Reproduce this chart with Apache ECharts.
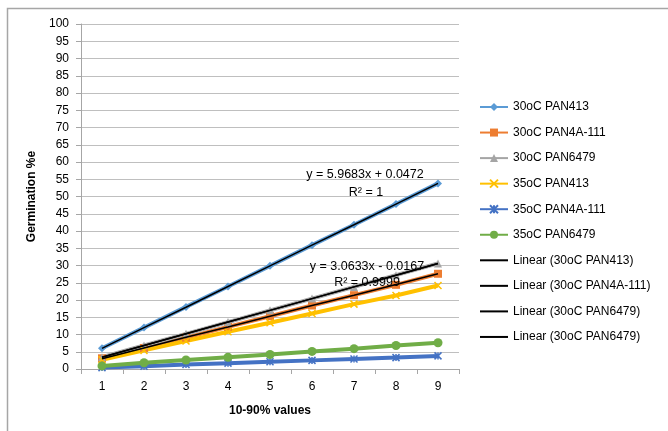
<!DOCTYPE html>
<html>
<head>
<meta charset="utf-8">
<script src="https://cdn.jsdelivr.net/npm/echarts@6/dist/echarts.min.js"></script>
<style>
html,body{margin:0;padding:0;background:#fff;}
#chart{width:668px;height:431px;}
</style>
</head>
<body>
<div id="chart"></div>
<script>
var categories = ['1','2','3','4','5','6','7','8','9'];
var yTicks = {min: 0, max: 100, interval: 5};

var s30PAN413   = [6.0, 12.0, 18.0, 23.9, 29.9, 35.9, 41.8, 47.8, 53.8];
var s30PAN4A111 = [3.1, 6.1, 9.1, 12.2, 15.3, 18.4, 21.4, 24.4, 27.6];
var s30PAN6479  = [3.4, 6.8, 10.2, 13.6, 17.0, 20.4, 23.8, 27.2, 30.6];
var s35PAN413   = [2.7, 5.4, 8.1, 10.8, 13.4, 16.1, 18.8, 21.3, 24.2];
var s35PAN4A111 = [0.4, 0.8, 1.3, 1.7, 2.1, 2.5, 2.9, 3.3, 3.8];
var s35PAN6479  = [0.9, 1.8, 2.6, 3.4, 4.2, 5.1, 5.9, 6.8, 7.6];

var trend30PAN413   = [6.0, 12.0, 17.9, 23.9, 29.9, 35.9, 41.8, 47.8, 53.8];
var trend30PAN4A111 = [3.0, 6.1, 9.2, 12.2, 15.3, 18.4, 21.4, 24.5, 27.6];
var trend30PAN6479  = [3.4, 6.8, 10.2, 13.6, 17.0, 20.4, 23.8, 27.2, 30.6];

var names = ['30oC PAN413','30oC PAN4A-111','30oC PAN6479','35oC PAN413','35oC PAN4A-111','35oC PAN6479',
             'Linear (30oC PAN413)','Linear (30oC PAN4A-111)','Linear (30oC PAN6479)','Linear (30oC PAN6479) '];

var annotations = ['y = 5.9683x + 0.0472', 'R² = 1', 'y = 3.0633x - 0.0167', 'R² = 0.9999'];

var FONT = 'Liberation Sans, Arial, sans-serif';
var xMark = 'path://M0,0L10,10M10,0L0,10';
var starMark = 'path://M0,0L10,10M10,0L0,10M5,0L5,10';

function dataSeries(name, data, color, symbol, size, stroked) {
  return {
    name: name, type: 'line', data: data, color: color,
    symbol: symbol, symbolSize: size, showSymbol: true,
    lineStyle: {width: 4, color: color},
    itemStyle: stroked ? {color: color, borderColor: color, borderWidth: 1.5} : {color: color},
    emphasis: {disabled: true}, animation: false
  };
}
function trendSeries(name, data) {
  return {
    name: name, type: 'line', data: data, color: '#000',
    symbol: 'circle', symbolSize: 0, showSymbol: false,
    itemStyle: {opacity: 0},
    lineStyle: {width: 1.5, color: '#000'},
    emphasis: {disabled: true}, animation: false, z: 5
  };
}

var legendData = names.map(function (n, i) {
  return i < 6 ? {name: n} : {name: n, itemStyle: {opacity: 0, color: 'rgba(0,0,0,0)', borderWidth: 0}};
});

var chart = echarts.init(document.getElementById('chart'), null, {renderer: 'canvas'});
chart.setOption({
  animation: false,
  backgroundColor: '#fff',
  textStyle: {fontFamily: FONT},
  grid: {left: 81, right: 209, top: 24, bottom: 62, containLabel: false},
  legend: {
    orient: 'vertical', left: 479, top: 101, padding: 0,
    itemWidth: 28, itemHeight: 10, itemGap: 13.55,
    data: legendData,
    textStyle: {fontFamily: FONT, fontSize: 12, color: '#000'},
    selectedMode: false
  },
  xAxis: {
    type: 'category', data: categories, boundaryGap: true,
    name: '10-90% values', nameLocation: 'middle', nameGap: 36,
    nameTextStyle: {fontFamily: FONT, fontSize: 12, fontWeight: 'bold', color: '#000'},
    axisLine: {lineStyle: {color: '#a6a6a6', width: 1}},
    axisTick: {show: true, alignWithLabel: false, length: 5, lineStyle: {color: '#a6a6a6'}},
    axisLabel: {fontFamily: FONT, fontSize: 12, color: '#000', margin: 12},
    splitLine: {show: false}
  },
  yAxis: {
    type: 'value', min: yTicks.min, max: yTicks.max, interval: yTicks.interval,
    name: 'Germination %e', nameLocation: 'middle', nameGap: 37, nameRotate: 90,
    nameTextStyle: {fontFamily: FONT, fontSize: 12, fontWeight: 'bold', color: '#000'},
    axisLine: {show: true, lineStyle: {color: '#a6a6a6', width: 1}},
    axisTick: {show: true, length: 5, lineStyle: {color: '#a6a6a6'}},
    axisLabel: {fontFamily: FONT, fontSize: 12, color: '#000', margin: 12},
    splitLine: {show: true, lineStyle: {color: '#bfbfbf', width: 1}}
  },
  graphic: [
    {type: 'rect', silent: true, shape: {x: 7.5, y: 8.5, width: 800, height: 600},
     style: {fill: 'none', stroke: '#a6a6a6', lineWidth: 1.5}},
    {type: 'text', x: 365, y: 175, z: 100, style: {text: annotations[0], fill: '#000', font: '12.5px ' + FONT, align: 'center', verticalAlign: 'middle'}},
    {type: 'text', x: 366, y: 193, z: 100, style: {text: annotations[1], fill: '#000', font: '12.5px ' + FONT, align: 'center', verticalAlign: 'middle'}},
    {type: 'text', x: 367, y: 266.5, z: 100, style: {text: annotations[2], fill: '#000', font: '12.5px ' + FONT, align: 'center', verticalAlign: 'middle'}},
    {type: 'text', x: 367, y: 283, z: 100, style: {text: annotations[3], fill: '#000', font: '12.5px ' + FONT, align: 'center', verticalAlign: 'middle'}}
  ],
  series: [
    dataSeries(names[0], s30PAN413, '#5B9BD5', 'diamond', 8, false),
    dataSeries(names[1], s30PAN4A111, '#ED7D31', 'rect', 8, false),
    dataSeries(names[2], s30PAN6479, '#A5A5A5', 'triangle', 8, false),
    dataSeries(names[3], s35PAN413, '#FFC000', xMark, 7, true),
    dataSeries(names[4], s35PAN4A111, '#4472C4', starMark, 7, true),
    dataSeries(names[5], s35PAN6479, '#70AD47', 'circle', 9, false),
    trendSeries(names[6], trend30PAN413),
    trendSeries(names[7], trend30PAN4A111),
    trendSeries(names[8], trend30PAN6479),
    trendSeries(names[9], trend30PAN6479)
  ]
});
</script>
</body>
</html>
